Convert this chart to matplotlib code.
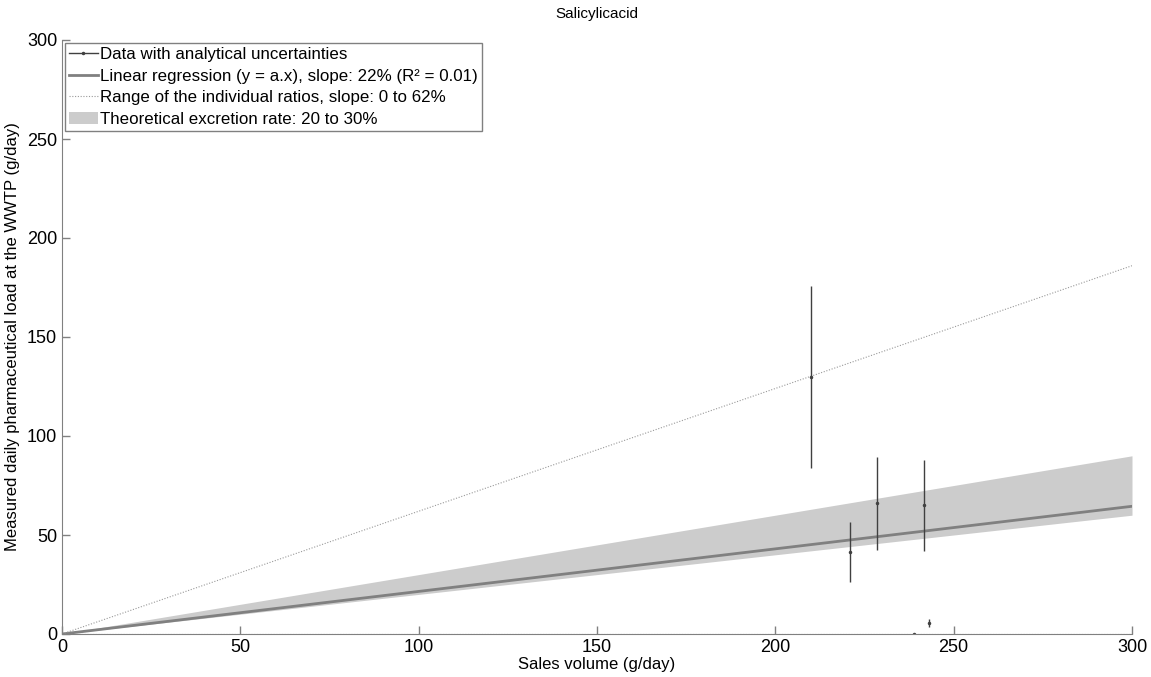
import numpy as np
import matplotlib.pyplot as plt
from matplotlib.lines import Line2D

plt.rcParams['font.family'] = ['Liberation Sans', 'DejaVu Sans']

# measured points (sales volume vs load) with analytical uncertainties
sales = [210, 221, 228.5, 241.6, 239, 243]
load = [130, 41.5, 66, 65, 0, 5.5]
load_err = [46, 15, 23.5, 23, 0, 2]

slope_fit = 0.215
excretion_lo, excretion_hi = 0.20, 0.30
ratio_lo, ratio_hi = 0.0, 0.62
x_max = 300

fig = plt.figure(figsize=(11.51, 6.77), dpi=100)
ax = fig.add_axes([62 / 1151, 43 / 677, 1070 / 1151, 594 / 677])

xs = np.array([0, x_max])
band = ax.fill_between(xs, excretion_lo * xs, excretion_hi * xs, color='#cccccc', lw=0,
                       label='Theoretical excretion rate: 20 to 30%')
reg, = ax.plot(xs, slope_fit * xs, color='#808080', lw=2,
               label='Linear regression (y = a.x), slope: 22% (R\u00b2 = 0.01)')
rng, = ax.plot(xs, ratio_hi * xs, color='#999999', lw=0.8, ls=(0, (1, 1.5)),
               label='Range of the individual ratios, slope: 0 to 62%')
ax.plot(xs, ratio_lo * xs, color='#999999', lw=0.8, ls=(0, (1, 1.5)))
ax.errorbar(sales, load, yerr=load_err, fmt='.', color='#404040', ms=3,
            elinewidth=1, capsize=0)
# legend proxy: MATLAB style line with dot
eb = Line2D([], [], color='#404040', lw=1, marker='.', ms=3,
            label='Data with analytical uncertainties')

ax.set_xlim(0, x_max)
ax.set_ylim(0, 300)
ax.set_xticks([0, 50, 100, 150, 200, 250, 300])
ax.set_yticks([0, 50, 100, 150, 200, 250, 300])
ax.tick_params(direction='in', length=6, labelsize=13, color='#808080', width=1)
for side in ['top', 'right']:
    ax.spines[side].set_visible(False)
for side in ['left', 'bottom']:
    ax.spines[side].set_color('#808080')

ax.set_xlabel('Sales volume (g/day)', fontsize=12, labelpad=1)
ax.set_ylabel('Measured daily pharmaceutical load at the WWTP (g/day)', fontsize=12, labelpad=5)
ax.set_title('Salicylicacid', fontsize=11, pad=16)

leg = ax.legend(handles=[eb, reg, rng, band], loc='upper left', fontsize=12.2,
                frameon=True, fancybox=False, edgecolor='#808080', framealpha=1,
                handlelength=1.7, handletextpad=0.15, borderpad=0.25, labelspacing=0.4,
                borderaxespad=0.15)
leg.get_frame().set_linewidth(1)

fig.savefig('out.png', dpi=100)
